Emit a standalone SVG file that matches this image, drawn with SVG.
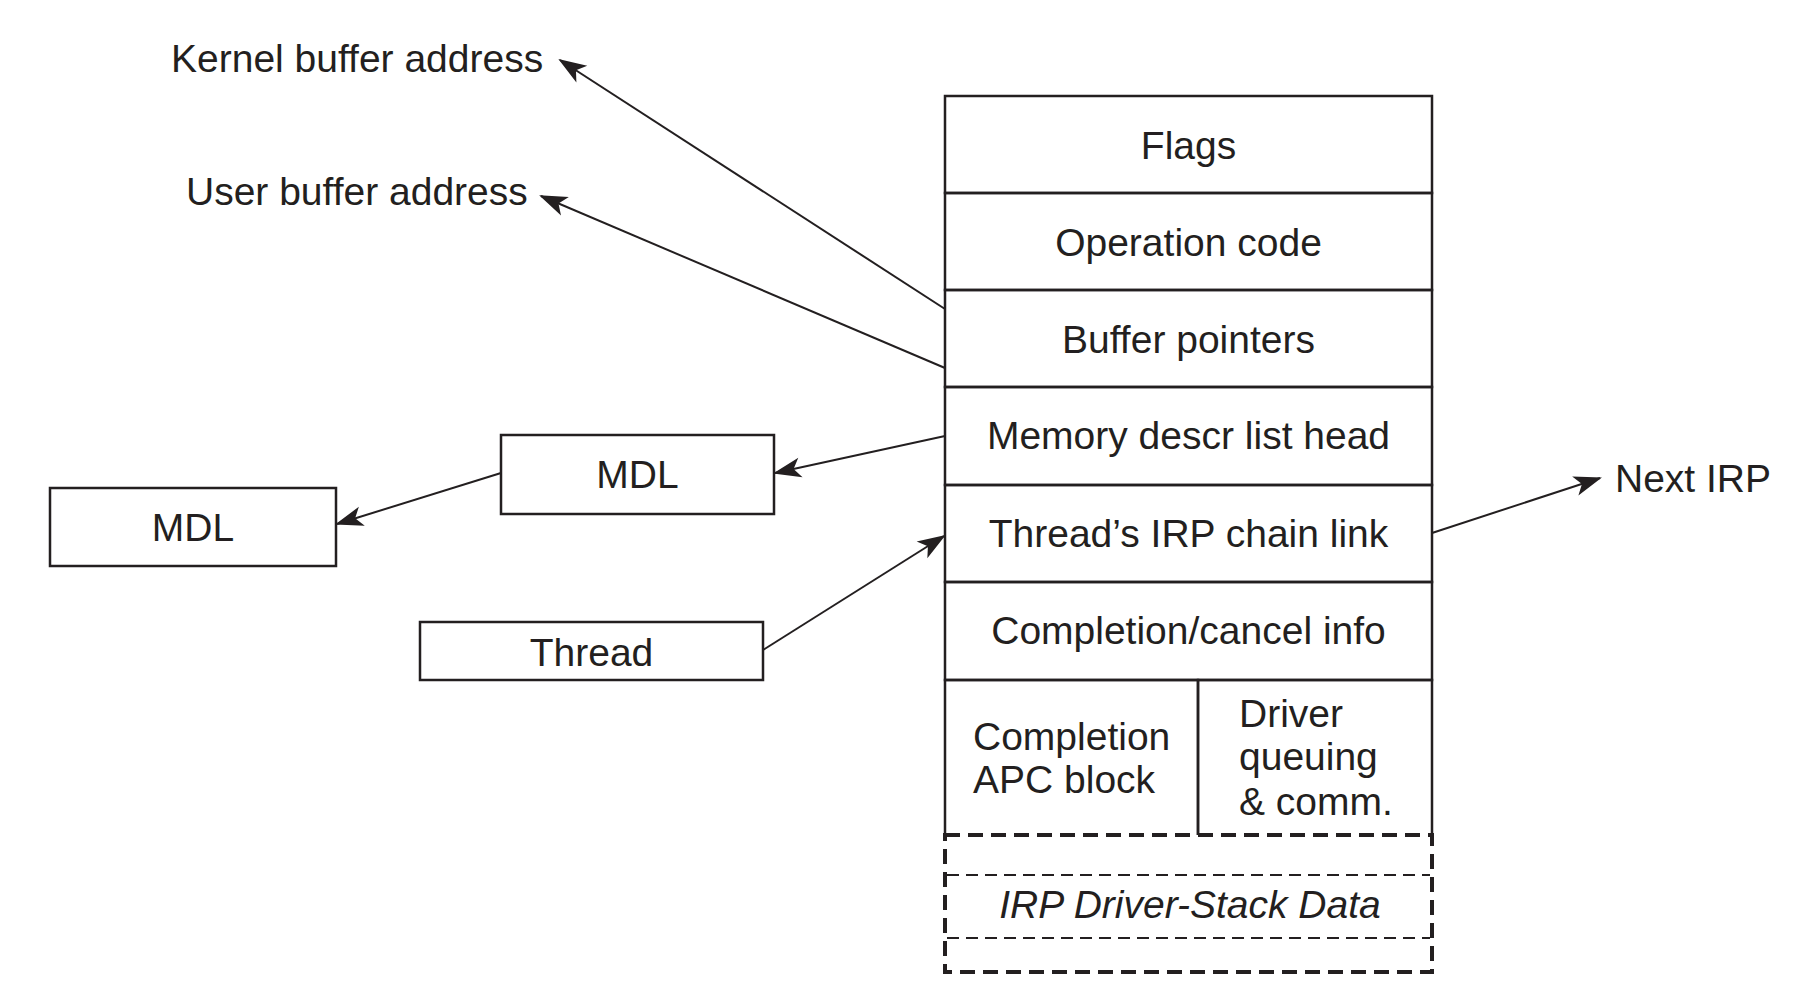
<svg xmlns="http://www.w3.org/2000/svg" width="1795" height="1001" viewBox="0 0 1795 1001">
<style>
  text { font-family: "Liberation Sans", Arial, sans-serif; font-size: 39px; fill: #231f20; }
  .c { text-anchor: middle; }
  .box { fill: none; stroke: #231f20; stroke-width: 2.5; }
  .conn { fill: none; stroke: #231f20; stroke-width: 2; }
  .thick { fill: none; stroke: #231f20; stroke-width: 4; stroke-dasharray: 15 8; }
  .thin { fill: none; stroke: #231f20; stroke-width: 2; stroke-dasharray: 12 7; }
</style>
<defs>
  <marker id="ah" markerUnits="userSpaceOnUse" markerWidth="40" markerHeight="30" viewBox="-30 -15 40 30" refX="0" refY="0" orient="auto">
    <path d="M2,0 L-26,-10 L-19,0 L-26,10 Z" fill="#231f20"/>
  </marker>
</defs>
<rect width="1795" height="1001" fill="#ffffff"/>

<g id="irp">
  <g id="row-flags"><rect class="box" x="945" y="96" width="487" height="97"/><text class="c" x="1188.5" y="159">Flags</text></g>
  <g id="row-opcode"><rect class="box" x="945" y="193" width="487" height="97"/><text class="c" x="1188.5" y="256">Operation code</text></g>
  <g id="row-buffers"><rect class="box" x="945" y="290" width="487" height="97"/><text class="c" x="1188.5" y="353">Buffer pointers</text></g>
  <g id="row-mdl"><rect class="box" x="945" y="387" width="487" height="98"/><text class="c" x="1188.5" y="449">Memory descr list head</text></g>
  <g id="row-chain"><rect class="box" x="945" y="485" width="487" height="97"/><text class="c" x="1188.5" y="547">Thread’s IRP chain link</text></g>
  <g id="row-completion"><rect class="box" x="945" y="582" width="487" height="98"/><text class="c" x="1188.5" y="644">Completion/cancel info</text></g>
  <g id="cell-apc">
    <path class="box" d="M945,835 V680 H1198 V835"/>
    <text x="973" y="750">Completion</text>
    <text x="973" y="793">APC block</text>
  </g>
  <g id="cell-driver">
    <path class="box" d="M1198,835 V680 H1432 V835"/>
    <text x="1239" y="727">Driver</text>
    <text x="1239" y="770">queuing</text>
    <text x="1239" y="815">&amp; comm.</text>
  </g>
  <g id="stack-data">
    <rect class="thick" x="945" y="835" width="487" height="137"/>
    <line class="thin" x1="947" y1="875" x2="1430" y2="875"/>
    <line class="thin" x1="947" y1="938" x2="1430" y2="938"/>
    <text class="c" x="1190" y="918" font-style="italic">IRP Driver-Stack Data</text>
  </g>
</g>

<g id="mdl1"><rect class="box" x="501" y="435" width="273" height="79"/><text class="c" x="637.5" y="488">MDL</text></g>
<g id="mdl2"><rect class="box" x="50" y="488" width="286" height="78"/><text class="c" x="193" y="541">MDL</text></g>
<g id="thread"><rect class="box" x="420" y="622" width="343" height="58"/><text class="c" x="591.5" y="666">Thread</text></g>
<g id="kernel-label"><text x="171" y="72">Kernel buffer address</text></g>
<g id="user-label"><text x="186" y="205">User buffer address</text></g>
<g id="next-label"><text x="1615" y="492">Next IRP</text></g>

<g id="connectors">
  <line class="conn" x1="945" y1="309" x2="560" y2="60" marker-end="url(#ah)"/>
  <line class="conn" x1="945" y1="368" x2="541" y2="196" marker-end="url(#ah)"/>
  <line class="conn" x1="945" y1="436" x2="775" y2="473" marker-end="url(#ah)"/>
  <line class="conn" x1="501" y1="473" x2="337" y2="524" marker-end="url(#ah)"/>
  <line class="conn" x1="763" y1="650" x2="944" y2="536" marker-end="url(#ah)"/>
  <line class="conn" x1="1432" y1="533" x2="1600" y2="478" marker-end="url(#ah)"/>
</g>
</svg>
